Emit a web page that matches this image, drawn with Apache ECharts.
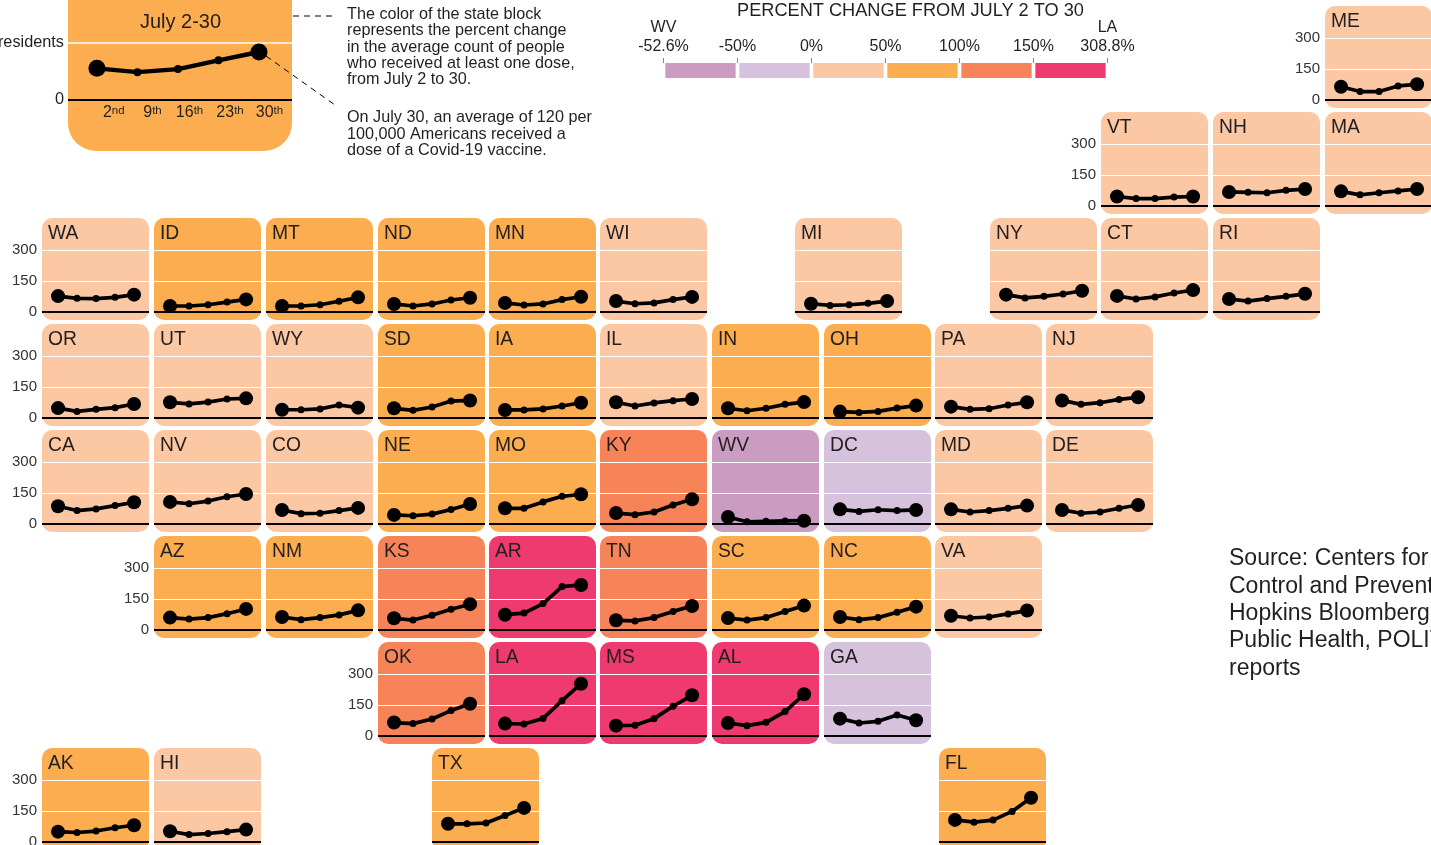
<!DOCTYPE html>
<html>
<head>
<meta charset="utf-8">
<style>html,body{margin:0;padding:0;background:#fff;overflow:hidden}#c{width:1431px;height:845px}</style>
<script src="https://cdn.jsdelivr.net/npm/echarts@6/dist/echarts.min.js"></script>
</head>
<body>
<div id="c"></div>
<script>
// ---------- DATA ----------
const days = [2, 9, 16, 23, 30];
const dayLabels = ['2{s|nd}', '9{s|th}', '16{s|th}', '23{s|th}', '30{s|th}'];
const yTicks = [0, 150, 300];
const keySeries = [82, 72, 80, 103, 125];

const WA = [77, 66, 65, 71, 84];
const ID = [29, 29, 35, 48, 61];
const MT = [29, 29, 35, 52, 71];
const ND = [39, 29, 39, 58, 69];
const MN = [44, 34, 39, 60, 74];
const WI = [53, 40, 44, 60, 73];
const MI = [40, 32, 35, 42, 53];
const NY = [84, 68, 76, 87, 103];
const CT = [78, 63, 73, 92, 106];
const RI = [63, 53, 65, 76, 88];
const OR = [48, 32, 42, 50, 68];
const UT = [76, 68, 77, 92, 95];
const WY = [40, 40, 44, 63, 50];
const SD = [47, 37, 53, 82, 85];
const IA = [39, 39, 44, 58, 74];
const IL = [76, 58, 73, 84, 92];
const IN = [47, 35, 47, 66, 77];
const OH = [31, 27, 32, 48, 60];
const PA = [55, 42, 45, 63, 76];
const NJ = [85, 66, 74, 90, 100];
const CA = [86, 65, 73, 89, 105];
const NV = [107, 98, 111, 132, 145];
const CO = [68, 50, 52, 65, 78];
const NE = [44, 40, 48, 70, 97];
const MO = [76, 76, 107, 134, 144];
const KY = [53, 45, 58, 92, 120];
const WV = [34, 11, 13, 15, 16];
const DC = [71, 61, 69, 65, 68];
const MD = [71, 58, 65, 76, 89];
const DE = [68, 52, 58, 76, 92];
const AZ = [60, 53, 60, 79, 102];
const NM = [63, 50, 60, 73, 95];
const KS = [57, 48, 71, 100, 125];
const AR = [74, 82, 128, 210, 218];
const TN = [47, 44, 60, 90, 116];
const SC = [58, 48, 60, 89, 118];
const NC = [63, 50, 60, 86, 113];
const VA = [69, 58, 63, 78, 94];
const OK = [65, 60, 82, 123, 156];
const LA = [60, 58, 85, 171, 253];
const MS = [50, 52, 84, 144, 197];
const AL = [63, 50, 66, 118, 202];
const GA = [84, 63, 71, 102, 76];
const AK = [50, 46, 53, 69, 81];
const HI = [52, 36, 41, 50, 60];
const TX = [88, 88, 92, 128, 165];
const FL = [107, 96, 106, 148, 214];
const VT = [46, 36, 36, 43, 46];
const NH = [68, 66, 64, 76, 82];
const MA = [71, 54, 64, 73, 82];
const ME = [64, 41, 41, 68, 76];

const binBelowMinus50 = ['WV'];
const binMinus50To0 = ['DC', 'GA'];
const bin0To50 = ['WA','WI','MI','NY','CT','RI','OR','UT','WY','IL','PA','NJ','CA','NV','CO','MD','DE','VA','HI','VT','NH','MA','ME'];
const bin50To100 = ['ID','MT','ND','MN','SD','IA','IN','OH','NE','MO','AZ','NM','SC','NC','AK','TX','FL'];
const bin100To150 = ['KY','KS','TN','OK'];
const binAbove150 = ['AR','LA','MS','AL'];

const legendTickLabels = ['-52.6%', '-50%', '0%', '50%', '100%', '150%', '308.8%'];
const legendExtremes = ['WV', 'LA'];
const legendBins = ['b1', 'b2', 'b3', 'b4', 'b5', 'b6'];
const legendBarValues = [1, 1, 1, 1, 1, 1];

const stateValues = {WA,ID,MT,ND,MN,WI,MI,NY,CT,RI,OR,UT,WY,SD,IA,IL,IN,OH,PA,NJ,CA,NV,CO,NE,MO,KY,WV,DC,MD,DE,AZ,NM,KS,AR,TN,SC,NC,VA,OK,LA,MS,AL,GA,AK,HI,TX,FL,VT,NH,MA,ME};

// ---------- STYLE / LAYOUT ----------
const binColors = ['#CB9CC1', '#D6C2DC', '#FCC8A4', '#FBAD50', '#F78458', '#EF3A6F'];
const binMembers = [binBelowMinus50, binMinus50To0, bin0To50, bin50To100, bin100To150, binAbove150];
const colorOf = s => binColors[binMembers.findIndex(m => m.includes(s))];

const FONT = '"Liberation Sans", Arial, sans-serif';
const TXT = '#231f20';
const TILE_W = 107, TILE_H = 102;
const cols = [42, 154, 266, 378, 489, 600, 712, 824, 935, 1046];
// [state, left, top, showYLabels]
const tiles = [
  ['ME',1325,6,1],
  ['VT',1101,112,1],['NH',1213,112,0],['MA',1325,112,0],
  ['WA',cols[0],218,1],['ID',cols[1],218,0],['MT',cols[2],218,0],['ND',cols[3],218,0],['MN',cols[4],218,0],['WI',cols[5],218,0],
  ['MI',795,218,0],['NY',990,218,0],['CT',1101,218,0],['RI',1213,218,0],
  ['OR',cols[0],324,1],['UT',cols[1],324,0],['WY',cols[2],324,0],['SD',cols[3],324,0],['IA',cols[4],324,0],['IL',cols[5],324,0],['IN',cols[6],324,0],['OH',cols[7],324,0],['PA',cols[8],324,0],['NJ',cols[9],324,0],
  ['CA',cols[0],430,1],['NV',cols[1],430,0],['CO',cols[2],430,0],['NE',cols[3],430,0],['MO',cols[4],430,0],['KY',cols[5],430,0],['WV',cols[6],430,0],['DC',cols[7],430,0],['MD',cols[8],430,0],['DE',cols[9],430,0],
  ['AZ',cols[1],536,1],['NM',cols[2],536,0],['KS',cols[3],536,0],['AR',cols[4],536,0],['TN',cols[5],536,0],['SC',cols[6],536,0],['NC',cols[7],536,0],['VA',cols[8],536,0],
  ['OK',cols[3],642,1],['LA',cols[4],642,0],['MS',cols[5],642,0],['AL',cols[6],642,0],['GA',cols[7],642,0],
  ['AK',cols[0],748,1],['HI',cols[1],748,0],['TX',432,748,0],['FL',939,748,0]
];

const grid = [], xAxis = [], yAxis = [], series = [], graphic = [];

function text(x, y, t, size, extra) {
  graphic.push({type:'text', x, y, z:5, silent:true,
    style:Object.assign({text:t, fontFamily:FONT, fontSize:size, fill:TXT, textVerticalAlign:'middle'}, extra||{})});
}

// ---------- KEY TILE ----------
graphic.push({type:'rect', z:-10, silent:true, shape:{x:68,y:-40,width:224,height:191,r:[0,0,28,28]}, style:{fill:binColors[3]}});
grid.push({left:68, width:224, top:42.5, height:57, show:false, outerBoundsMode:'none'});
xAxis.push({type:'value', gridIndex:0, min:-3, max:35.7, interval:7,
  splitLine:{show:false}, axisTick:{show:false},
  axisLine:{show:true, onZero:false, lineStyle:{color:'#000', width:2, cap:'butt'}},
  axisLabel:{show:true, color:TXT, fontFamily:FONT, fontSize:16, margin:5,
    customValues:[4.9, 11.6, 18, 25, 31.8],
    formatter:(v)=>dayLabels[[4.9,11.6,18,25,31.8].indexOf(v)] || '',
    rich:{s:{fontSize:11.5, fontFamily:FONT, color:TXT, verticalAlign:'top', lineHeight:10, padding:[0,0,5,0]}}}});
yAxis.push({type:'value', gridIndex:0, min:0, max:150, interval:150,
  axisLine:{show:false}, axisTick:{show:false},
  splitLine:{show:true, lineStyle:{color:'#fff', width:1.5}},
  axisLabel:{show:true, color:TXT, fontFamily:FONT, fontSize:16.3, margin:4,
    formatter:v=> v===150 ? 'residents' : '0'}});
series.push({type:'line', xAxisIndex:0, yAxisIndex:0, clip:false, silent:true, animation:false,
  data:days.map((d,i)=>[d,keySeries[i]]), showAllSymbol:true, symbol:'circle',
  symbolSize:(v,p)=>(p.dataIndex===0||p.dataIndex===4)?17:8,
  itemStyle:{color:'#000'}, lineStyle:{color:'#000', width:4.4}});
text(180.5, 22, 'July 2-30', 20, {textAlign:'center'});

// ---------- STATE TILES ----------
tiles.forEach((t, k) => {
  const [s, left, top, showY] = t, i = k + 1;
  graphic.push({type:'rect', z:-10, silent:true, shape:{x:left,y:top,width:TILE_W,height:TILE_H,r:10}, style:{fill:colorOf(s)}});
  text(left + 6, top + 15.5, s, 19.3);
  grid.push({left, width:TILE_W, top:top + 32, height:62, show:false, outerBoundsMode:'none'});
  xAxis.push({type:'value', gridIndex:i, min:-3.9, max:35.5,
    axisLabel:{show:false}, axisTick:{show:false}, splitLine:{show:false},
    axisLine:{show:true, onZero:false, lineStyle:{color:'#000', width:2, cap:'butt'}}});
  yAxis.push({type:'value', gridIndex:i, min:yTicks[0], max:yTicks[2], interval:yTicks[1],
    axisLine:{show:false}, axisTick:{show:false},
    splitLine:{show:true, lineStyle:{color:'#fff', width:1.2}},
    axisLabel:{show:!!showY, color:'#333', fontFamily:FONT, fontSize:15, margin:5, padding:[4,0,0,0]}});
  series.push({type:'line', name:s, xAxisIndex:i, yAxisIndex:i, clip:false, silent:true, animation:false,
    data:days.map((d,j)=>[d,stateValues[s][j]]), showAllSymbol:true, symbol:'circle',
    symbolSize:(v,p)=>(p.dataIndex===0||p.dataIndex===4)?14:7,
    itemStyle:{color:'#000'}, lineStyle:{color:'#000', width:3.7}});
});

// ---------- LEGEND ----------
const L = grid.length;
grid.push({left:663.5, width:444, top:63, height:15, show:false, outerBoundsMode:'none'});
xAxis.push({type:'category', gridIndex:L, data:legendBins, show:false});
xAxis.push({type:'value', gridIndex:L, position:'top', min:0, max:6, interval:1,
  splitLine:{show:false}, axisLine:{show:false},
  axisTick:{show:true, length:5, lineStyle:{color:'#888', width:1}},
  axisLabel:{show:true, color:TXT, fontFamily:FONT, fontSize:16, margin:7, lineHeight:19,
    formatter:v=>{
      const lab = legendTickLabels[v];
      if (v===0) return legendExtremes[0]+'\n'+lab;
      if (v===6) return legendExtremes[1]+'\n'+lab;
      return lab;
    }}});
yAxis.push({type:'value', gridIndex:L, min:0, max:1, show:false});
series.push({type:'bar', xAxisIndex:xAxis.length-2, yAxisIndex:L, barCategoryGap:'5%', silent:true, animation:false,
  data:legendBarValues.map((v,i)=>({value:v, itemStyle:{color:binColors[i]}}))});
text(910.5, 11, 'PERCENT CHANGE FROM JULY 2 TO 30', 18.2, {textAlign:'center'});

// ---------- ANNOTATIONS ----------
const noteLines1 = ['The color of the state block','represents the percent change','in the average count of people','who received at least one dose,','from July 2 to 30.'];
const noteLines2 = ['On July 30, an average of 120 per','100,000 Americans received a','dose of a Covid-19 vaccine.'];
const sourceLines = ['Source: Centers for Disease','Control and Prevention, Johns','Hopkins Bloomberg School of','Public Health, POLITICO staff','reports'];
noteLines1.forEach((l,i)=>text(347, 14.5 + i*16.3, l, 16.2));
noteLines2.forEach((l,i)=>text(347, 118 + i*16.3, l, 16.2));
sourceLines.forEach((l,i)=>text(1229, 559 + i*27.3, l, 23));
const dash = {stroke:'#000', lineWidth:1, lineDash:[6,5]};
graphic.push({type:'line', z:5, silent:true, shape:{x1:293,y1:16,x2:335,y2:16}, style:dash});
graphic.push({type:'line', z:5, silent:true, shape:{x1:266,y1:56,x2:335,y2:105}, style:dash});

const chart = echarts.init(document.getElementById('c'), null, {renderer:'canvas', width:1431, height:845});
chart.setOption({animation:false, backgroundColor:'#fff', tooltip:{show:false}, grid, xAxis, yAxis, series, graphic:{elements:graphic}});
</script>
</body>
</html>
